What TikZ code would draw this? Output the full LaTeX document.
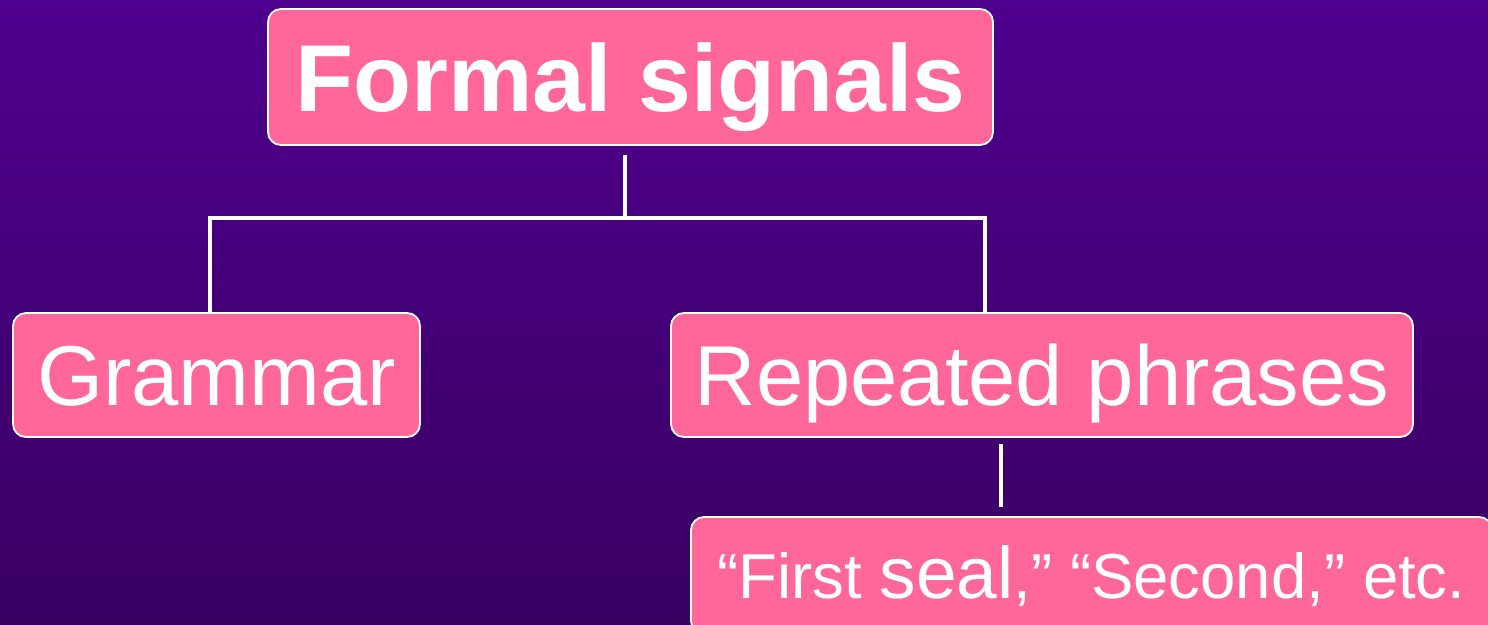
\documentclass[tikz,border=0pt]{standalone}
\usepackage{fontspec}
\setmainfont{Liberation Sans}
\usetikzlibrary{positioning}
\definecolor{boxpink}{RGB}{255,102,153}
\definecolor{bgtop}{RGB}{78,0,142}
\definecolor{bgbot}{RGB}{58,0,98}
\begin{document}
\begin{tikzpicture}
[x=1pt,y=-1pt,box/.style = {draw=white, line width=1.8pt, fill=boxpink, rounded corners=13pt, inner sep=0pt, text=white},link/.style = {draw=white, line width=3.5pt},]
\useasboundingbox (0,0) rectangle (1488,624);
\clip (0,0) rectangle (1488,624);
\shade[top color=bgtop,bottom color=bgbot] (0,0) rectangle (1488,624);
\node (form) at (630.5,77)[box,minimum width=725pt,minimum height=136pt,text height=87pt,text depth=19pt,font=\fontsize{95}{105}\selectfont\bfseries] {Formal signals};
\node (gram) at (216.5,375)[box,minimum width=407pt,minimum height=124pt,text height=78pt,text depth=17pt,font=\fontsize{85}{95}\selectfont] {Grammar};
\node (rep) at (1042,375)[box,minimum width=742pt,minimum height=124pt,text height=78pt,text depth=17pt,font=\fontsize{85}{95}\selectfont] {Repeated phrases};
\node (seal) at (1091.5,575.5)[box,minimum width=801pt,minimum height=117pt,text height=58pt,text depth=12.6pt,font=\fontsize{63.5}{70}\selectfont] {“First {\fontsize{73}{80}\selectfont seal},” “Second,” etc.};
\coordinate (formfoot) at (625,155);
\coordinate (fork) at (625,218);
\coordinate (forkL) at (210,218);
\coordinate (forkR) at (985,218);
\coordinate (repfoot) at (1001,444);
\coordinate (sealtop) at (1001,507);
\draw[link] (formfoot)--(fork);
\draw[link] (gram.north -| forkL)--(forkL)--(forkR)--(rep.north -| forkR);
\draw[link] (repfoot)--(sealtop);
\end{tikzpicture}
\end{document}
